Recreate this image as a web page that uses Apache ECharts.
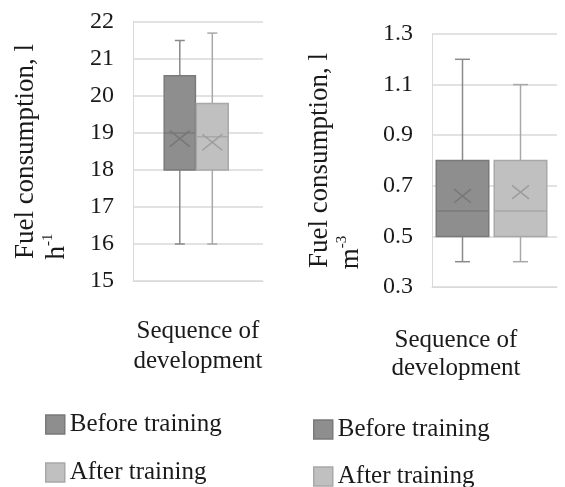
<!DOCTYPE html>
<html>
<head>
<meta charset="utf-8">
<script src="https://cdn.jsdelivr.net/npm/echarts@6/dist/echarts.min.js"></script>
<style>html,body{margin:0;padding:0;background:#fff;}#c{width:565px;height:487px;}</style>
</head>
<body>
<div id="c"></div>
<script>
// ---- data ----
const categories = ['Sequence of development'];
const seriesNames = ['Before training', 'After training'];
// [min, Q1, median, Q3, max, mean]
const perHourBefore = [16, 18, 19, 20.55, 21.5, 18.85];
const perHourAfter  = [16, 18, 18.9, 19.8, 21.7, 18.75];
const perVolumeBefore = [0.4, 0.5, 0.6, 0.8, 1.2, 0.66];
const perVolumeAfter  = [0.4, 0.5, 0.6, 0.8, 1.1, 0.675];
const perHourTicks = [15, 16, 17, 18, 19, 20, 21, 22];
const perVolumeTicks = [0.3, 0.5, 0.7, 0.9, 1.1, 1.3];

// ---- styles ----
const FONT = "'Liberation Serif', 'Times New Roman', serif";
const TXT = '#1a1a1a';
const GRID = '#d9d9d9';
const styles = [
  { fill: '#8e8e8e', border: '#7a7a7a', whisker: '#8a8a8a', mark: '#777777' },
  { fill: '#c0c0c0', border: '#a8a8a8', whisker: '#a8a8a8', mark: '#9c9c9c' }
];
const layouts = [
  [ { off: 0.36, w: 0.24, cap: 10, mk: 10 }, { off: 0.61, w: 0.245, cap: 10, mk: 10 } ],
  [ { off: 0.244, w: 0.42, cap: 15, mk: 8.5 }, { off: 0.708, w: 0.42, cap: 15, mk: 8.5 } ]
];

function makeRender(lay, st) {
  return function (params, api) {
    const idx = api.value(0);
    const v = [1, 2, 3, 4, 5, 6].map(i => api.value(i));
    const c = api.coord([idx, v[2]]);
    const band = api.size([1, 0])[0];
    const cx = c[0] - band / 2 + lay.off * band;
    const w = lay.w * band;
    const y = v.map(val => api.coord([idx, val])[1]);
    const [yMin, yQ1, yMed, yQ3, yMax, yMean] = y;
    const lineStyle = { stroke: st.whisker, lineWidth: 1.5 };
    return {
      type: 'group',
      children: [
        { type: 'line', shape: { x1: cx, y1: yMax, x2: cx, y2: yQ3 }, style: lineStyle },
        { type: 'line', shape: { x1: cx, y1: yQ1, x2: cx, y2: yMin }, style: lineStyle },
        { type: 'line', shape: { x1: cx - lay.cap / 2, y1: yMax, x2: cx + lay.cap / 2, y2: yMax }, style: lineStyle },
        { type: 'line', shape: { x1: cx - lay.cap / 2, y1: yMin, x2: cx + lay.cap / 2, y2: yMin }, style: lineStyle },
        { type: 'rect', shape: { x: cx - w / 2, y: yQ3, width: w, height: yQ1 - yQ3 },
          style: { fill: st.fill, stroke: st.border, lineWidth: 1.5 } },
        { type: 'line', shape: { x1: cx - w / 2, y1: yMed, x2: cx + w / 2, y2: yMed },
          style: { stroke: st.border, lineWidth: 1.5 } },
        { type: 'line', shape: { x1: cx - lay.mk, y1: yMean - lay.mk * 0.8, x2: cx + lay.mk, y2: yMean + lay.mk * 0.8 },
          style: { stroke: st.mark, lineWidth: 1.5 } },
        { type: 'line', shape: { x1: cx - lay.mk, y1: yMean + lay.mk * 0.8, x2: cx + lay.mk, y2: yMean - lay.mk * 0.8 },
          style: { stroke: st.mark, lineWidth: 1.5 } }
      ]
    };
  };
}

function yName(unit, exp) {
  return '{a|Fuel consumption, l}\n{b|' + unit + '}{c|' + exp + '}{p|}';
}
function yNameRich(padW) {
  return {
    a: { fontSize: 27, fontFamily: FONT, color: TXT, lineHeight: 31 },
    b: { fontSize: 27, fontFamily: FONT, color: TXT, lineHeight: 31 },
    c: { fontSize: 15, fontFamily: FONT, color: TXT, lineHeight: 15, verticalAlign: 'top' },
    p: { width: padW, lineHeight: 31 }
  };
}

function legendAt(left, top, i) {
  return {
    left: left, top: top, orient: 'vertical', itemWidth: 19, itemHeight: 19,
    textStyle: { fontSize: 25, fontFamily: FONT, color: TXT },
    data: [{ name: seriesNames[i], icon: 'rect',
      itemStyle: { color: styles[i].fill, borderColor: styles[i].border, borderWidth: 1.5 } }]
  };
}

const chart = echarts.init(document.getElementById('c'), null, { renderer: 'canvas' });
const option = {
  animation: false,
  backgroundColor: '#fff',
  grid: [
    { left: 133, top: 22, width: 130, height: 259, outerBoundsMode: 'none', containLabel: false },
    { left: 432, top: 34, width: 125, height: 253, outerBoundsMode: 'none', containLabel: false }
  ],
  legend: [
    legendAt(40, 407, 0), legendAt(40, 455, 1),
    legendAt(308, 412, 0), legendAt(308, 459, 1)
  ],
  xAxis: [
    { type: 'category', gridIndex: 0, data: categories,
      name: 'Sequence of\ndevelopment', nameLocation: 'middle', nameGap: 35,
      nameTextStyle: { fontSize: 25, fontFamily: FONT, color: TXT, lineHeight: 30 },
      axisLabel: { show: false }, axisTick: { show: false },
      axisLine: { show: true, lineStyle: { color: GRID } } },
    { type: 'category', gridIndex: 1, data: categories,
      name: 'Sequence of\ndevelopment', nameLocation: 'middle', nameGap: 39,
      nameTextStyle: { fontSize: 25, fontFamily: FONT, color: TXT, lineHeight: 28, padding: [0, 77, 0, 0] },
      axisLabel: { show: false }, axisTick: { show: false },
      axisLine: { show: true, lineStyle: { color: GRID } } }
  ],
  yAxis: [
    { type: 'value', gridIndex: 0, min: perHourTicks[0], max: perHourTicks[perHourTicks.length - 1], interval: 1,
      name: yName('h', '-1'), nameLocation: 'middle', nameRotate: 90, nameGap: 61,
      nameTextStyle: { rich: yNameRich(190) },
      axisLabel: { fontSize: 24, fontFamily: FONT, color: TXT, margin: 19 },
      axisTick: { show: false },
      axisLine: { show: true, lineStyle: { color: GRID } },
      splitLine: { show: true, lineStyle: { color: GRID, width: 1.5 } } },
    { type: 'value', gridIndex: 1, min: perVolumeTicks[0], max: perVolumeTicks[perVolumeTicks.length - 1],
      name: yName('m', '-3'), nameLocation: 'middle', nameRotate: 90, nameGap: 66,
      nameTextStyle: { rich: yNameRich(184) },
      axisLabel: { customValues: perVolumeTicks, formatter: v => Number(v).toFixed(1),
        fontSize: 24, fontFamily: FONT, color: TXT, margin: 19 },
      axisTick: { show: false, customValues: perVolumeTicks },
      axisLine: { show: true, lineStyle: { color: GRID } },
      splitLine: { show: true, customValues: perVolumeTicks, lineStyle: { color: GRID, width: 1.5 } } }
  ],
  series: [
    { type: 'custom', name: seriesNames[0], xAxisIndex: 0, yAxisIndex: 0,
      itemStyle: { color: styles[0].fill },
      renderItem: makeRender(layouts[0][0], styles[0]),
      encode: { x: 0, y: [1, 2, 3, 4, 5, 6] },
      data: [[0].concat(perHourBefore)] },
    { type: 'custom', name: seriesNames[1], xAxisIndex: 0, yAxisIndex: 0,
      itemStyle: { color: styles[1].fill },
      renderItem: makeRender(layouts[0][1], styles[1]),
      encode: { x: 0, y: [1, 2, 3, 4, 5, 6] },
      data: [[0].concat(perHourAfter)] },
    { type: 'custom', name: seriesNames[0], xAxisIndex: 1, yAxisIndex: 1,
      itemStyle: { color: styles[0].fill },
      renderItem: makeRender(layouts[1][0], styles[0]),
      encode: { x: 0, y: [1, 2, 3, 4, 5, 6] },
      data: [[0].concat(perVolumeBefore)] },
    { type: 'custom', name: seriesNames[1], xAxisIndex: 1, yAxisIndex: 1,
      itemStyle: { color: styles[1].fill },
      renderItem: makeRender(layouts[1][1], styles[1]),
      encode: { x: 0, y: [1, 2, 3, 4, 5, 6] },
      data: [[0].concat(perVolumeAfter)] }
  ]
};
chart.setOption(option);
</script>
</body>
</html>
